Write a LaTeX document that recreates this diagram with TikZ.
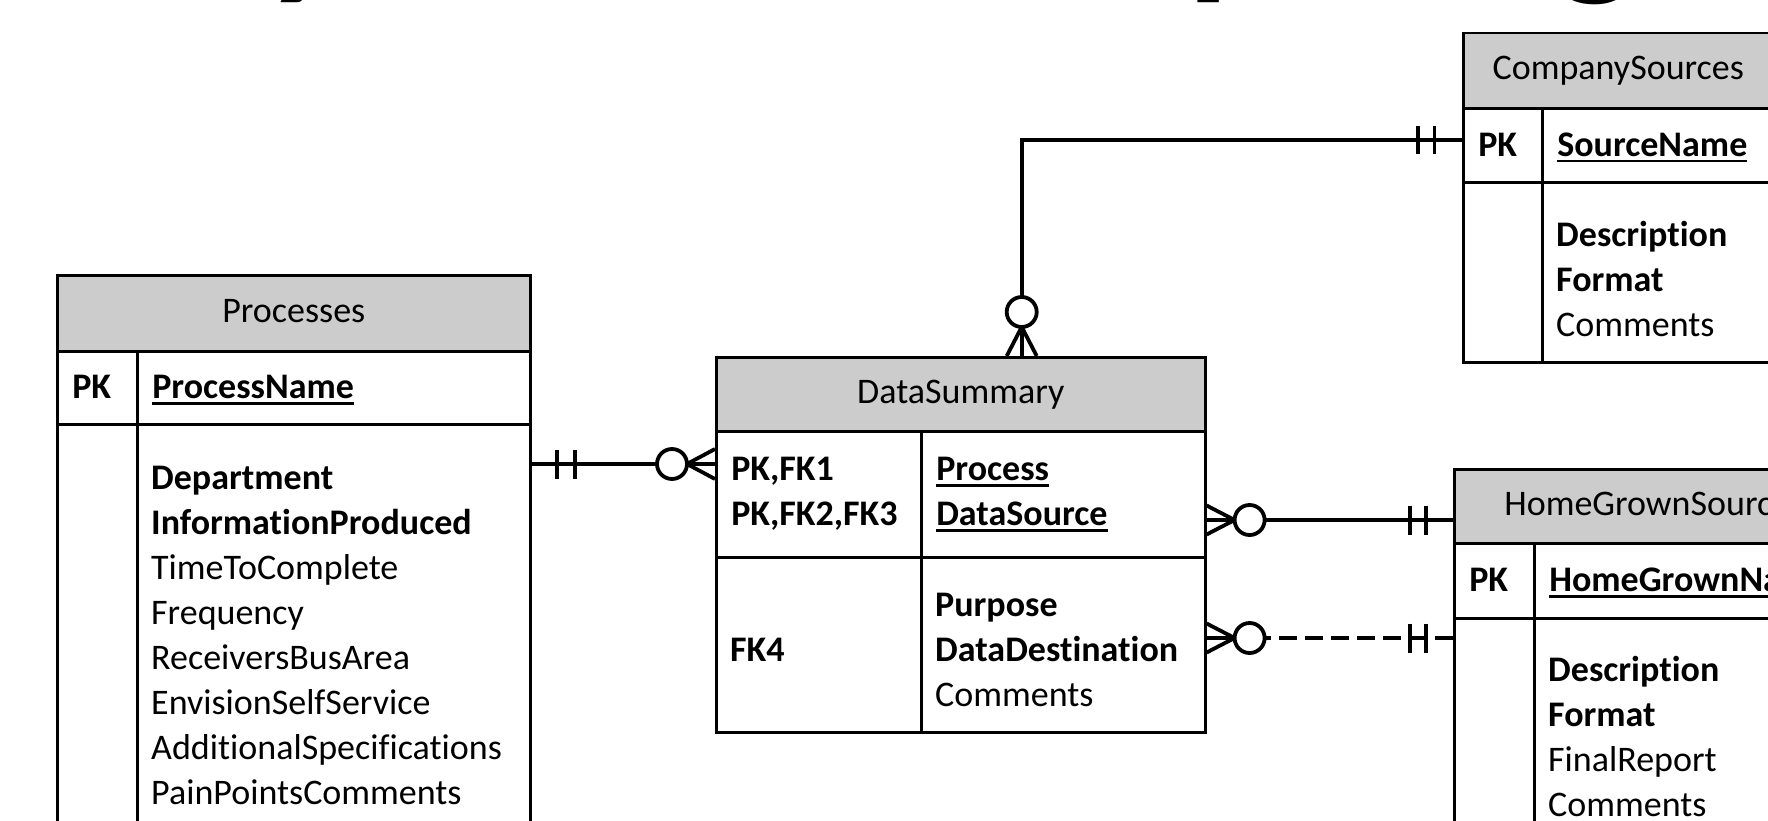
\documentclass[tikz,border=0pt]{standalone}
\usepackage{fontspec}
\setmainfont{Carlito}[Ligatures=NoCommon]
\usepackage{tikz}
\usetikzlibrary{positioning}
\definecolor{ergray}{RGB}{204,204,204}
\newcommand{\erfont}{\fontsize{36}{45}\selectfont}
\newcommand{\titlefont}{\fontsize{173}{190}\selectfont\bfseries}
\newcommand{\keyfield}[1]{\textbf{\setbox0\hbox{#1}\rlap{\rule[-6pt]{\wd0}{2.4pt}}\box0}}
\tikzset{
  tblhead/.style={draw=black,line width=2.6pt,fill=ergray,anchor=north west,inner sep=0pt,execute at begin node=\strut},
  tblcell/.style={draw=black,line width=2.6pt,fill=white,anchor=north west,inner xsep=15pt,inner ysep=0pt,align=left,
    execute at begin node=\strut,execute at end node=\strut},
  tbltext/.style={anchor=north west,inner sep=0pt,align=left,execute at begin node=\strut},
  relline/.style={draw=black,line width=3.8pt},
  zeroring/.style={circle,draw=black,line width=3.8pt,fill=white,minimum size=30pt,inner sep=0pt}
}

\begin{document}
\begin{tikzpicture}[x=1pt,y=-1pt,font=\erfont]
  \useasboundingbox (0,0) rectangle (1768,821);
  \clip (0,0) rectangle (1768,821);
  \node[anchor=base west,inner sep=0pt,font=\titlefont] (title) at (-74,-24) {Entity Relationship Diagram};

  \node[tblhead,minimum width=473pt,minimum height=76pt] (procH) at (56,274) {Processes};
  \node[tblcell,text width=50pt,minimum height=73pt] (procKL) at (56,350) {\raisebox{-2pt}{\textbf{PK}}};
  \node[tblcell,text width=363pt,minimum height=73pt] (procKR) at (136,350) {\raisebox{-2pt}{\keyfield{ProcessName}}};
  \node[tblcell,text width=50pt,minimum height=427pt] (procAL) at (56,423) {};
  \node[tblcell,text width=363pt,minimum height=427pt] (procAR) at (136,423) {};
  \node[tbltext] (procAtxt) at ([xshift=15pt,yshift=-43pt]procAR.north west)
    {\textbf{Department}\\\textbf{InformationProduced}\\TimeToComplete\\Frequency\\ReceiversBusArea\\EnvisionSelfService\\AdditionalSpecifications\\PainPointsComments};

  \node[tblhead,minimum width=489pt,minimum height=74pt] (dsumH) at (715,356) {DataSummary};
  \node[tblcell,text width=175pt,minimum height=126pt] (dsumKL) at (715,430) {\textbf{PK,FK1}\\\textbf{PK,FK2,FK3}};
  \node[tblcell,text width=254pt,minimum height=126pt] (dsumKR) at (920,430) {\keyfield{Process}\\\keyfield{DataSource}};
  \node[tblcell,text width=175pt,minimum height=175pt] (dsumAL) at (715,556) {};
  \node[tblcell,text width=254pt,minimum height=175pt] (dsumAR) at (920,556) {};
  \node[tbltext] (dsumFK) at ([xshift=15pt,yshift=-73.5pt]dsumAL.north west) {\textbf{FK4}};
  \node[tbltext] (dsumAtxt) at ([xshift=15pt,yshift=-36.5pt]dsumAR.north west)
    {\textbf{Purpose}\\\textbf{DataDestination}\\Comments};

  \node[tblhead,minimum width=310pt,minimum height=75.4pt] (csrcH) at (1462,31.6) {CompanySources};
  \node[tblcell,text width=49pt,minimum height=74pt] (csrcKL) at (1462,107) {\raisebox{-2pt}{\textbf{PK}}};
  \node[tblcell,text width=201pt,minimum height=74pt] (csrcKR) at (1541,107) {\raisebox{-2pt}{\keyfield{SourceName}}};
  \node[tblcell,text width=49pt,minimum height=180pt] (csrcAL) at (1462,181) {};
  \node[tblcell,text width=201pt,minimum height=180pt] (csrcAR) at (1541,181) {};
  \node[tbltext] (csrcAtxt) at ([xshift=15pt,yshift=-40.5pt]csrcAR.north west)
    {\textbf{Description}\\\textbf{Format}\\Comments};

  \node[tblhead,minimum width=400pt,minimum height=74pt] (hgsH) at (1453,468) {HomeGrownSources};
  \node[tblcell,text width=50pt,minimum height=75pt] (hgsKL) at (1453,542) {\raisebox{-2pt}{\textbf{PK}}};
  \node[tblcell,text width=290pt,minimum height=75pt] (hgsKR) at (1533,542) {\raisebox{-2pt}{\keyfield{HomeGrownName}}};
  \node[tblcell,text width=50pt,minimum height=250pt] (hgsAL) at (1453,617) {};
  \node[tblcell,text width=290pt,minimum height=250pt] (hgsAR) at (1533,617) {};
  \node[tbltext] (hgsAtxt) at ([xshift=15pt,yshift=-39pt]hgsAR.north west)
    {\textbf{Description}\\\textbf{Format}\\FinalReport\\Comments};

  \draw[relline] (procAR.north east) ++(0,41) coordinate (r1p) -- (r1p -| dsumKL.west) coordinate (r1d);
  \draw[relline] ([xshift=25pt]r1p) ++(0,-14.5) -- ++(0,29) ([xshift=43pt]r1p) ++(0,-14.5) -- ++(0,29);
  \draw[relline] ([xshift=-28pt]r1d) -- ++(28,-15) ([xshift=-28pt]r1d) -- ++(28,15);
  \node[zeroring] (z1) at ([xshift=-43pt]r1d) {};

  \draw[relline] (csrcKL.north west) ++(0,33) coordinate (r2c) -| ([xshift=306.7pt]dsumH.north west) coordinate (r2d);
  \draw[relline] ([xshift=-44pt]r2c) ++(0,-14) -- ++(0,28) ([xshift=-27.5pt]r2c) ++(0,-14) -- ++(0,28);
  \draw[relline] ([yshift=29pt]r2d) -- ++(-15,29) ([yshift=29pt]r2d) -- ++(15,29);
  \node[zeroring] (z2) at ([yshift=44pt]r2d) {};

  \draw[relline] (hgsH.north west) ++(0,52) coordinate (r3h) -- (r3h -| dsumKR.east) coordinate (r3d);
  \draw[relline] ([xshift=-43pt]r3h) ++(0,-14.5) -- ++(0,29) ([xshift=-27pt]r3h) ++(0,-14.5) -- ++(0,29);
  \draw[relline] ([xshift=28pt]r3d) -- ++(-28,-14.5) ([xshift=28pt]r3d) -- ++(-28,14.5);
  \node[zeroring] (z3) at ([xshift=43pt]r3d) {};

  \draw[relline,line width=4.4pt,dash pattern=on 18pt off 8pt] (hgsAL.north west) ++(0,21) coordinate (r4h) -- (r4h -| dsumAR.east) coordinate (r4d);
  \draw[relline] (r4d) -- ++(28,0);
  \draw[relline] ([xshift=-43pt]r4h) ++(0,-14.5) -- ++(0,29) ([xshift=-27pt]r4h) ++(0,-14.5) -- ++(0,29);
  \draw[relline] ([xshift=28pt]r4d) -- ++(-28,-14.5) ([xshift=28pt]r4d) -- ++(-28,14.5);
  \node[zeroring] (z4) at ([xshift=43pt]r4d) {};
\end{tikzpicture}
\end{document}
